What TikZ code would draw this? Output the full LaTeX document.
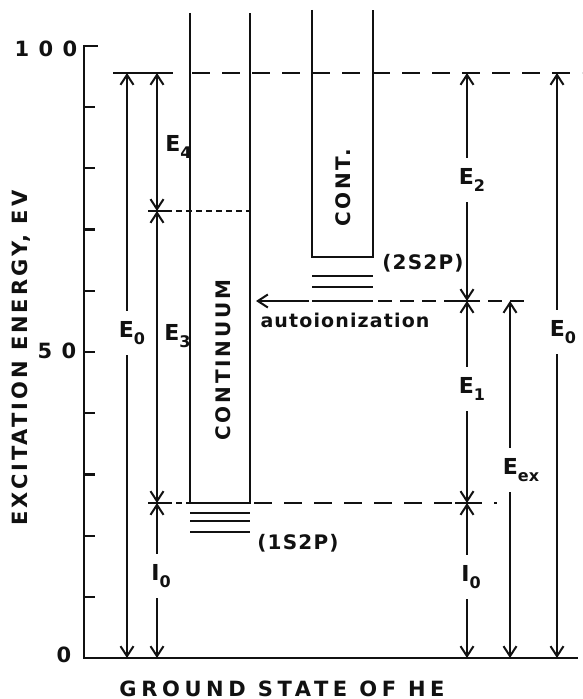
\documentclass[tikz,border=0pt]{standalone}
\usepackage{fontspec}
\usepackage{tikz}
\usetikzlibrary{arrows.meta}
\newfontfamily\leroy{DejaVu Sans Bold}
\definecolor{heInk}{HTML}{111111}
% letter with a lowered index, in the lettering font
\newcommand{\sublet}[2]{#1\raisebox{-0.6ex}{\fontsize{8}{8}\selectfont #2}}
\tikzset{
  axisln/.style={line width=1.1pt,color=heInk},
  lvl/.style={line width=1pt,color=heInk},
  lvldash/.style={line width=1pt,color=heInk,dash pattern=on 9pt off 6pt},
  lvlshort/.style={line width=0.9pt,color=heInk,dash pattern=on 3pt off 2pt},
  lvlmid/.style={line width=1pt,color=heInk,dash pattern=on 7pt off 4pt},
  darr/.style={{Straight Barb[length=5pt,width=6.5pt]}-{Straight Barb[length=5pt,width=6.5pt]},
    line width=1pt,color=heInk},
  arr/.style={-{Straight Barb[length=5pt,width=6.5pt]},line width=1pt,color=heInk},
  lbl/.style={font=\leroy\fontsize{10}{10}\selectfont\addfontfeature{LetterSpace=6},
    text=heInk,inner sep=1pt},
  widelbl/.style={lbl,font=\leroy\fontsize{10}{10}\selectfont\addfontfeature{LetterSpace=14}},
  ticklbl/.style={lbl,font=\leroy\fontsize{10.5}{10.5}\selectfont\addfontfeature{LetterSpace=45}},
  elbl/.style={lbl,font=\leroy\fontsize{11}{11}\selectfont},
  cutlbl/.style={elbl,fill=white,inner xsep=2pt,inner ysep=5pt},
}
\begin{document}
\begin{tikzpicture}[x=0.5pt,y=-0.5pt]
  \useasboundingbox (0,0) rectangle (582,699);

  % energy axis
  \coordinate (axtop) at (84,45);
  \coordinate (axorg) at (84,658);
  \coordinate (axend) at (578,658);
  \draw[axisln] (axtop) -- (axorg) -- (axend);
  \draw[axisln] (84,46) -- ++(14,0);
  \foreach \v in {10,20,...,90}
    \draw[axisln] (84,{658-6.12*\v}) -- ++(11,0);
  \node[ticklbl] (t100) at (46,49) {100};
  \node[ticklbl] (t50) at (57,351) {50};
  \node[ticklbl] (t0) at (64,655) {0};
  \node[lbl,rotate=90,font=\leroy\fontsize{10.5}{10.5}\selectfont\addfontfeature{LetterSpace=14}]
    (ylab) at (21,358) {EXCITATION ENERGY, EV};
  \node[lbl,font=\leroy\fontsize{10.5}{10.5}\selectfont\addfontfeature{LetterSpace=22}]
    (xlab) at (282,689) {GROUND STATE OF HE};

  % continuum of He+ (1s)
  \draw[lvl] (190,13) -- (190,503) -- (250,503) -- (250,13);
  \foreach \y in {513,521,532}
    \draw[lvl] (190,\y) -- (250,\y);
  \node[widelbl,rotate=90] (cont1) at (223,360) {CONTINUUM};
  \node[lbl] (lev1) at (298,543) {(1S2P)};

  % continuum of He+ (2s)
  \draw[lvl] (312,10) -- (312,257) -- (373,257) -- (373,10);
  \foreach \y in {276,287,301}
    \draw[lvl] (312,\y) -- (373,\y);
  \node[widelbl,rotate=90] (cont2) at (343,188) {CONT.};
  \node[lbl] (lev2) at (423,263) {(2S2P)};

  % levels
  \draw[lvl] (113,73) -- (173,73);
  \draw[lvldash] (192,73) -- (582,73);
  \draw[lvl] (148,211) -- (166,211);
  \draw[lvlshort] (166,211) -- (250,211);
  \draw[lvl] (148,503) -- (166,503);
  \draw[lvlshort] (166,503) -- (190,503);
  \draw[lvldash] (254,503) -- (497,503);
  \draw[lvl] (455,503) -- (480,503);
  \draw[lvlmid] (378,301) -- (525,301);
  \draw[lvl] (455,301) -- (480,301);

  % autoionization
  \coordinate (auA) at (309,301);
  \coordinate (auB) at (256,301);
  \draw[arr] (auA) -- (auB);
  \node[lbl,font=\leroy\fontsize{9.5}{9.5}\selectfont\addfontfeature{LetterSpace=6}]
    (auto) at (345,320) {autoionization};

  % left energies
  \coordinate (gA) at (127,658);
  \coordinate (tA) at (127,73);
  \draw[darr] (gA) -- (tA);
  \node[cutlbl] (E0a) at (132,333) {\sublet{E}{0}};

  \coordinate (gB) at (157,658);
  \coordinate (iB) at (157,503);
  \coordinate (mB) at (157,211);
  \coordinate (tB) at (157,73);
  \draw[darr] (mB) -- (tB);
  \draw[darr] (iB) -- (mB);
  \draw[darr] (gB) -- (iB);
  \node[elbl,anchor=west] (E4) at (163,147) {\sublet{E}{4}};
  \node[elbl,anchor=west] (E3) at (162,336) {\sublet{E}{3}};
  \node[cutlbl] (I0a) at (161,576) {\sublet{I}{0}};

  % right energies
  \coordinate (gC) at (467,658);
  \coordinate (iC) at (467,503);
  \coordinate (aC) at (467,301);
  \coordinate (tC) at (467,73);
  \draw[darr] (aC) -- (tC);
  \draw[darr] (iC) -- (aC);
  \draw[darr] (gC) -- (iC);
  \node[cutlbl] (E2) at (472,180) {\sublet{E}{2}};
  \node[cutlbl] (E1) at (472,389) {\sublet{E}{1}};
  \node[cutlbl] (I0b) at (471,577) {\sublet{I}{0}};

  \coordinate (gD) at (510,658);
  \coordinate (aD) at (510,301);
  \draw[darr] (gD) -- (aD);
  \node[cutlbl] (Eex) at (521,470) {\sublet{E}{ex}};

  \coordinate (gE) at (557,658);
  \coordinate (tE) at (557,73);
  \draw[darr] (gE) -- (tE);
  \node[cutlbl] (E0b) at (563,332) {\sublet{E}{0}};
\end{tikzpicture}
\end{document}
